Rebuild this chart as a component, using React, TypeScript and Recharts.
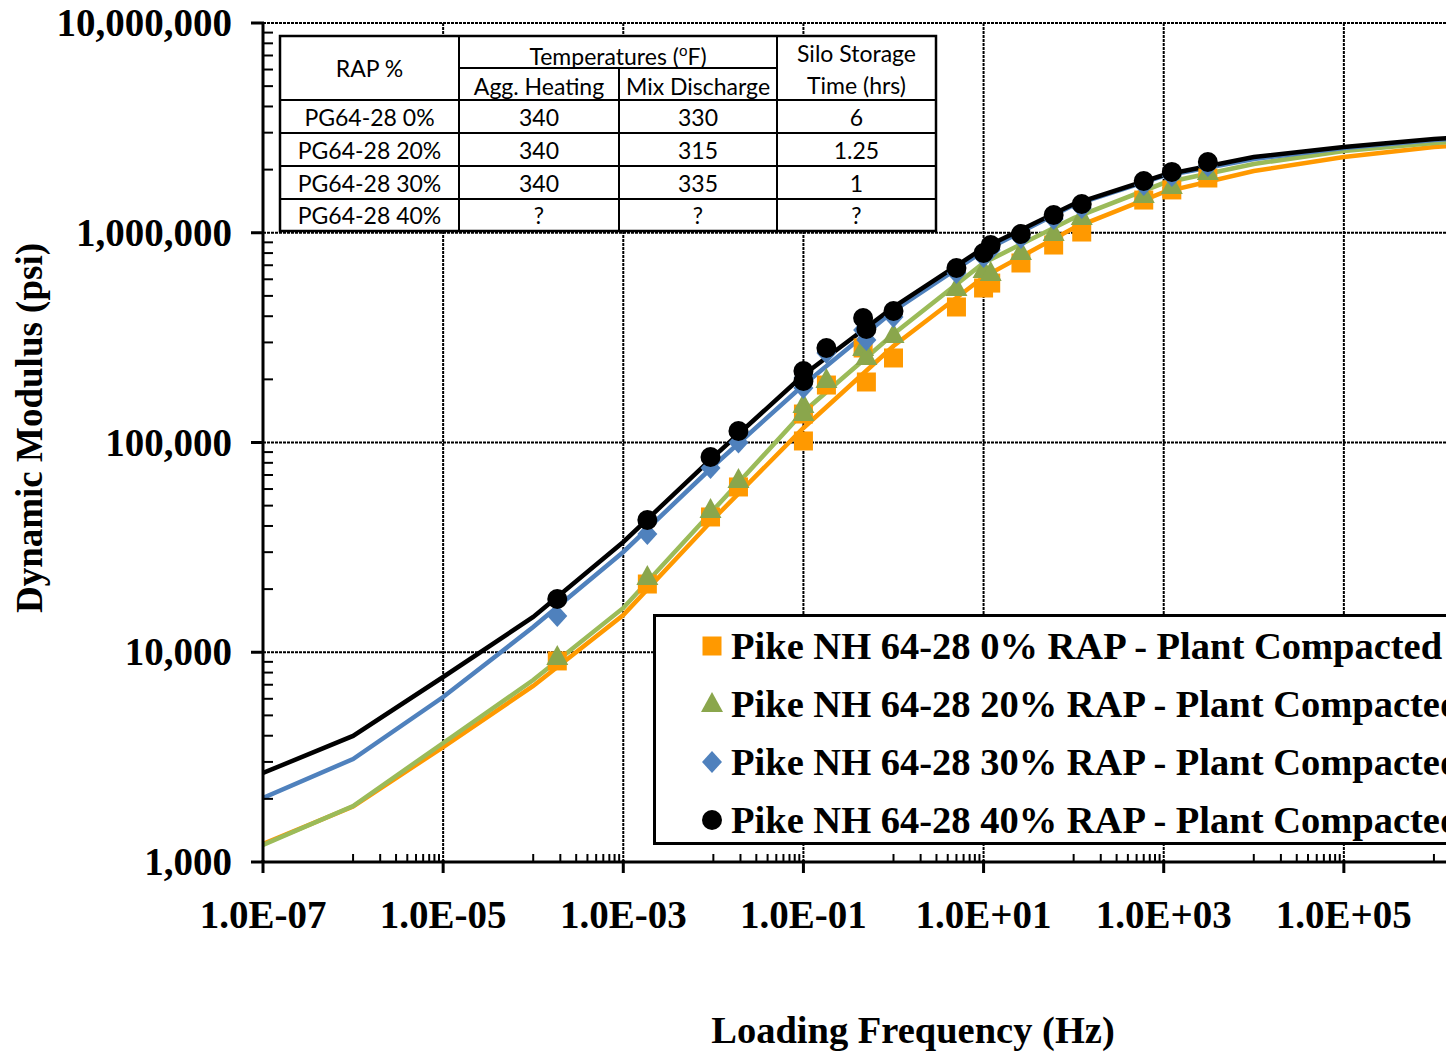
import React from 'react';
import { ComposedChart, Line, Scatter, XAxis, YAxis, ReferenceLine, Legend } from 'recharts';

// ---------- data ----------
const seriesNames = [
  'Pike NH 64-28 0% RAP - Plant Compacted',
  'Pike NH 64-28 20% RAP - Plant Compacted',
  'Pike NH 64-28 30% RAP - Plant Compacted',
  'Pike NH 64-28 40% RAP - Plant Compacted',
];
const lineColors = ['#FF9900', '#9BBB59', '#4F81BD', '#000000'];
const markerColors = ['#FF9900', '#8AA64C', '#4F81BD', '#000000'];
const markerShapes = ['square', 'triangle', 'diamond', 'circle'];

// fitted master curves (Hz, psi)
const curveFreq = [1e-7, 1e-6, 1e-5, 1e-4, 1e-3, 1e-2, 1e-1, 1, 1e1, 1e2, 1e3, 1e4, 1e5, 1e6, 1e7];
const curve0 = [1218, 1838, 3533, 6905, 15050, 43180, 117300, 288400, 615100, 1053000, 1563000, 1969000, 2297000, 2564000, 2738000];
const curve20 = [1205, 1849, 3692, 7375, 16260, 47660, 139800, 328900, 717500, 1175000, 1726000, 2128000, 2453000, 2679000, 2830000];
const curve30 = [2019, 3098, 6120, 13190, 30060, 77260, 187900, 423600, 818600, 1356000, 1865000, 2249000, 2536000, 2768000, 2925000];
const curve40 = [2657, 3990, 7621, 14730, 33550, 85300, 209800, 442600, 845900, 1371000, 1885000, 2297000, 2564000, 2800000, 2957000];

// measured points (reduced frequency, psi)
const testFreq = [1.85e-4, 1.85e-3, 9.3e-3, 1.9e-2, 0.1, 0.1, 0.18, 0.46, 0.5, 1, 5, 10, 12, 26, 60, 123, 600, 1230, 3090];
const meas0 = [9090, 21150, 44150, 61370, 101700, 136700, 187900, 282200, 194300, 252900, 442600, 545300, 575500, 717500, 874000, 1008000, 1432000, 1600000, 1824000];
const meas20 = [9490, 22850, 47660, 66250, 150900, 138200, 198600, 282200, 255700, 325500, 545300, 664000, 643000, 809000, 997000, 1189000, 1514000, 1671000, 1949000];
const meas30 = [14890, 36630, 75560, 100000, 181900, 203000, 267000, 343900, 308100, 396500, 643000, 766200, 827400, 944400, 1163000, 1312000, 1689000, 1865000, 2080000];
const meas40 = [17950, 42720, 85300, 113500, 219300, 196400, 282200, 392300, 347600, 423600, 679200, 800900, 874000, 986000, 1215000, 1371000, 1765000, 1950000, 2175000];

// axes
const xMajorTicks = [1e-7, 1e-5, 1e-3, 1e-1, 1e1, 1e3, 1e5];
const xGridValues = [1e-5, 1e-3, 1e-1, 1e1, 1e3, 1e5];
const xMinorDecades = [1e-6, 1e-4, 1e-2, 1, 1e2, 1e4, 1e6];
const yMajorTicks = [1000, 10000, 100000, 1000000, 10000000];
const yGridValues = [10000, 100000, 1000000, 10000000];
const minorMultipliers = [2, 3, 4, 5, 6, 7, 8, 9];

// table
const tableRap = ['PG64-28 0%', 'PG64-28 20%', 'PG64-28 30%', 'PG64-28 40%'];
const tableAgg = ['340', '340', '340', '?'];
const tableMix = ['330', '315', '335', '?'];
const tableSilo = ['6', '1.25', '1', '?'];

// ---------- derived ----------
const toPts = (xs: number[], ys: number[]) => xs.map((x, i) => ({ x, y: ys[i] }));
const curves = [curve0, curve20, curve30, curve40].map((c) => toPts(curveFreq, c));
const measured = [meas0, meas20, meas30, meas40].map((m) => toPts(testFreq, m));

const xMinorTicks: number[] = [];
xMinorDecades.forEach((d) => {
  xMinorTicks.push(d);
  minorMultipliers.forEach((k) => xMinorTicks.push(k * d));
});
const xAllTicks = [...xMajorTicks, ...xMinorTicks].sort((a, b) => a - b);
const yMinorTicks: number[] = [];
yMajorTicks.slice(0, -1).forEach((d) => minorMultipliers.forEach((k) => yMinorTicks.push(k * d)));
const yAllTicks = [...yMajorTicks, ...yMinorTicks].sort((a, b) => a - b);

const SERIF = "'Liberation Serif', 'Times New Roman', serif";
const SANS = "Lato, Carlito, Calibri, 'Open Sans', sans-serif";

const isIn = (arr: number[], v: number) => arr.some((a) => Math.abs(a - v) / a < 1e-9);

const fmtX = (v: number) => {
  const [m, e] = v.toExponential(1).split('e');
  const n = parseInt(e, 10);
  return `${m}E${n < 0 ? '-' : '+'}${String(Math.abs(n)).padStart(2, '0')}`;
};

const XTick = (props: any) => {
  const { x, y, payload } = props;
  const v = payload.value;
  if (isIn(xMajorTicks, v)) {
    return (
      <g>
        <line x1={x} x2={x} y1={y - 2} y2={y + 11} stroke="#000" strokeWidth={3} />
        <text x={x} y={y + 66} textAnchor="middle" fontFamily={SERIF} fontWeight="bold" fontSize={39} fill="#000">
          {fmtX(v)}
        </text>
      </g>
    );
  }
  return <line x1={x} x2={x} y1={y} y2={y - 8} stroke="#000" strokeWidth={2} />;
};

const YTick = (props: any) => {
  const { x, y, payload } = props;
  const v = payload.value;
  if (isIn(yMajorTicks, v)) {
    return (
      <g>
        <line x1={x - 12} x2={x + 1} y1={y} y2={y} stroke="#000" strokeWidth={3} />
        <text x={x - 31} y={y + 13} textAnchor="end" fontFamily={SERIF} fontWeight="bold" fontSize={39} fill="#000">
          {v.toLocaleString('en-US')}
        </text>
      </g>
    );
  }
  return <line x1={x} x2={x + 10} y1={y} y2={y} stroke="#000" strokeWidth={2} />;
};

const Marker = ({ shape, color, cx, cy }: { shape: string; color: string; cx: number; cy: number }) => {
  if (shape === 'square') return <rect x={cx - 9.5} y={cy - 9.5} width={19} height={19} fill={color} />;
  if (shape === 'triangle')
    return <polygon points={`${cx},${cy - 12} ${cx + 11},${cy + 8} ${cx - 11},${cy + 8}`} fill={color} />;
  if (shape === 'diamond')
    return <polygon points={`${cx},${cy - 11} ${cx + 10},${cy} ${cx},${cy + 11} ${cx - 10},${cy}`} fill={color} />;
  return <circle cx={cx} cy={cy} r={10} fill={color} />;
};

const LegendBox = () => (
  <div
    style={{
      position: 'relative',
      width: 900,
      height: 231,
      boxSizing: 'border-box',
      border: '3px solid #000',
      background: '#fff',
    }}
  >
    {seriesNames.map((name, i) => {
      const cy = 29 + i * 58;
      return (
        <div key={name}>
          <svg style={{ position: 'absolute', left: 42, top: cy - 14 }} width={28} height={28}>
            <Marker shape={markerShapes[i]} color={markerColors[i]} cx={14} cy={14} />
          </svg>
          <div
            style={{
              position: 'absolute',
              left: 75,
              top: cy - 24,
              height: 48,
              lineHeight: '48px',
              whiteSpace: 'nowrap',
              fontFamily: SERIF,
              fontWeight: 'bold',
              fontSize: 38.5,
              color: '#000',
            }}
          >
            {name}
          </div>
        </div>
      );
    })}
  </div>
);

// table geometry
const colX = [280, 459, 619, 777, 936];
const rowY = [36, 68, 100, 133, 166, 199, 231];

const TableOverlay = () => {
  const cx = (i: number) => (colX[i] + colX[i + 1]) / 2;
  const ts = { fontFamily: SANS, fontSize: 23, fill: '#000' } as const;
  const dataRows = [tableRap, tableAgg, tableMix, tableSilo];
  return (
    <g>
      <rect x={colX[0]} y={rowY[0]} width={colX[4] - colX[0]} height={rowY[6] - rowY[0]} fill="#fff" stroke="#000" strokeWidth={2.5} />
      <line x1={colX[1]} x2={colX[1]} y1={rowY[0]} y2={rowY[6]} stroke="#000" strokeWidth={2} />
      <line x1={colX[2]} x2={colX[2]} y1={rowY[1]} y2={rowY[6]} stroke="#000" strokeWidth={2} />
      <line x1={colX[3]} x2={colX[3]} y1={rowY[0]} y2={rowY[6]} stroke="#000" strokeWidth={2} />
      <line x1={colX[1]} x2={colX[3]} y1={rowY[1]} y2={rowY[1]} stroke="#000" strokeWidth={2} />
      {rowY.slice(2, 6).map((y) => (
        <line key={y} x1={colX[0]} x2={colX[4]} y1={y} y2={y} stroke="#000" strokeWidth={2} />
      ))}
      <text x={cx(0)} y={77} textAnchor="middle" {...ts}>RAP %</text>
      <text x={(colX[1] + colX[3]) / 2} y={65} textAnchor="middle" {...ts}>
        Temperatures (<tspan fontSize={15} dy={-9}>o</tspan>
        <tspan dy={9}>F)</tspan>
      </text>
      <text x={cx(1)} y={95} textAnchor="middle" {...ts}>Agg. Heating</text>
      <text x={cx(2)} y={95} textAnchor="middle" {...ts}>Mix Discharge</text>
      <text x={cx(3)} y={62} textAnchor="middle" {...ts}>Silo Storage</text>
      <text x={cx(3)} y={94} textAnchor="middle" {...ts}>Time (hrs)</text>
      {dataRows.map((col, ci) =>
        col.map((val, ri) => (
          <text key={`${ci}-${ri}`} x={cx(ci)} y={(rowY[ri + 2] + rowY[ri + 3]) / 2 + 9} textAnchor="middle" {...ts}>
            {val}
          </text>
        ))
      )}
    </g>
  );
};

export default function App() {
  return (
    <div style={{ position: 'absolute', left: 0, top: 0, width: 1446, height: 1055, overflow: 'hidden', background: '#fff' }}>
      <ComposedChart width={1544} height={1055} margin={{ top: 23, right: 20, bottom: 0, left: 0 }}>
        <XAxis
          dataKey="x"
          type="number"
          scale="log"
          domain={[1e-7, 1e7]}
          allowDataOverflow
          ticks={xAllTicks}
          interval={0}
          tick={(p: any) => <XTick {...p} />}
          tickLine={false}
          tickSize={0}
          tickMargin={0}
          axisLine={{ stroke: '#000', strokeWidth: 3 }}
          height={193}
        />
        <YAxis
          dataKey="y"
          type="number"
          scale="log"
          domain={[1000, 10000000]}
          allowDataOverflow
          ticks={yAllTicks}
          interval={0}
          tick={(p: any) => <YTick {...p} />}
          tickLine={false}
          tickSize={0}
          tickMargin={0}
          axisLine={{ stroke: '#000', strokeWidth: 3 }}
          width={263}
        />
        {yGridValues.map((v) => (
          <ReferenceLine key={`gy${v}`} y={v} stroke="#000" strokeWidth={2} strokeDasharray="3 1" />
        ))}
        {xGridValues.map((v) => (
          <ReferenceLine key={`gx${v}`} x={v} stroke="#000" strokeWidth={2} strokeDasharray="3 1" />
        ))}
        {curves.map((c, i) => (
          <Line
            key={`c${i}`}
            data={c}
            dataKey="y"
            type="linear"
            stroke={lineColors[i]}
            strokeWidth={4.5}
            dot={false}
            activeDot={false}
            legendType="none"
            isAnimationActive={false}
          />
        ))}
        {measured.map((m, i) => (
          <Scatter
            key={`m${i}`}
            name={seriesNames[i]}
            data={m}
            dataKey="y"
            fill={markerColors[i]}
            isAnimationActive={false}
            shape={(p: any) => <Marker shape={markerShapes[i]} color={markerColors[i]} cx={p.cx} cy={p.cy} />}
          />
        ))}
        <Legend
          layout="horizontal"
          verticalAlign="middle"
          align="center"
          wrapperStyle={{ left: 653, top: 614, width: 900, height: 231 }}
          content={() => <LegendBox />}
        />
      </ComposedChart>
      <svg style={{ position: 'absolute', left: 0, top: 0 }} width={1446} height={1055}>
        <TableOverlay />
        <text
          transform="translate(42, 428) rotate(-90)"
          textAnchor="middle"
          fontFamily={SERIF}
          fontWeight="bold"
          fontSize={37}
          fill="#000"
        >
          Dynamic Modulus (psi)
        </text>
        <text x={913} y={1043} textAnchor="middle" fontFamily={SERIF} fontWeight="bold" fontSize={38.5} fill="#000">
          Loading Frequency (Hz)
        </text>
      </svg>
    </div>
  );
}
